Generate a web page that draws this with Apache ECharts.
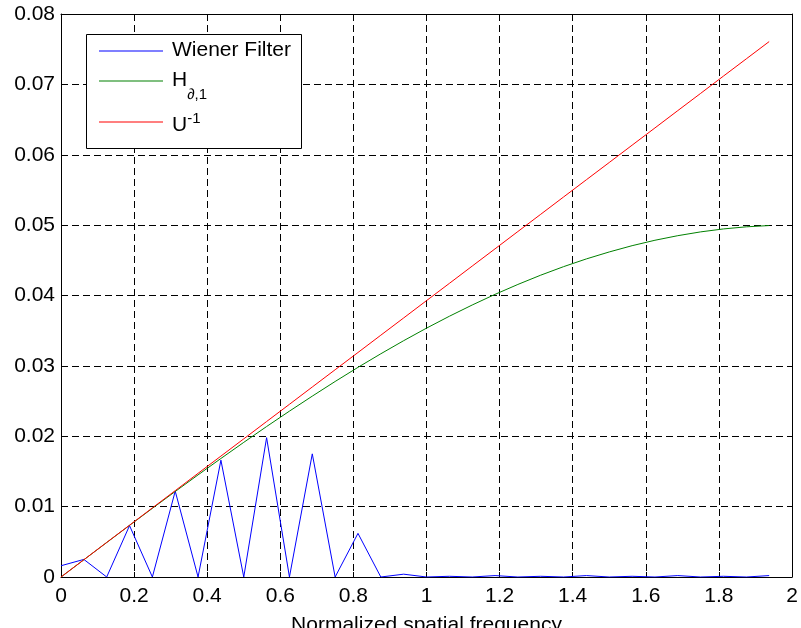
<!DOCTYPE html>
<html>
<head>
<meta charset="utf-8">
<script src="https://cdn.jsdelivr.net/npm/echarts@6/dist/echarts.min.js"></script>
<style>html,body{margin:0;padding:0;background:#fff;}#c{width:801px;height:628px;}</style>
</head>
<body>
<div id="c"></div>
<script>
var xValues = [0,0.0625,0.125,0.1875,0.25,0.3125,0.375,0.4375,0.5,0.5625,0.625,0.6875,0.75,0.8125,0.875,0.9375,
  1,1.0625,1.125,1.1875,1.25,1.3125,1.375,1.4375,1.5,1.5625,1.625,1.6875,1.75,1.8125,1.875,1.9375];
var wiener = [0.0016,0.0025,0,0.0073,0,0.0122,0,0.0166,0,0.0198,0,0.0175,0,0.0062,0,0.0004,
  0,0.0001,0,0.0002,0,0.0001,0,0.0002,0,0.0001,0,0.0002,0,0.0001,0,0.0002];
var hPartial = [0,0.00245,0.0049,0.00734,0.00976,0.01215,0.01451,0.01684,0.01913,0.02138,0.02357,0.0257,0.02778,0.02979,0.03172,0.03358,
  0.03536,0.03705,0.03865,0.04016,0.04157,0.04289,0.0441,0.0452,0.04619,0.04708,0.04785,0.0485,0.04904,0.04946,0.04976,0.04994];
var uInv = [0,0.00245,0.00491,0.00736,0.00982,0.01227,0.01473,0.01718,0.01963,0.02209,0.02454,0.027,0.02945,0.0319,0.03436,0.03681,
  0.03927,0.04172,0.04418,0.04663,0.04909,0.05154,0.054,0.05645,0.0589,0.06136,0.06381,0.06627,0.06872,0.07118,0.07363,0.07608];
var seriesNames = ['Wiener Filter', 'H', 'U'];
var xLabel = 'Normalized spatial frequency';

function pairs(ys){ return xValues.map(function(x,i){ return [x, ys[i]]; }); }

var FONT = '"Liberation Sans", Arial, sans-serif';
var gridLine = { show: true, lineStyle: { color: '#000', type: [7,4], width: 1 } };
var chart = echarts.init(document.getElementById('c'), null, { renderer: 'canvas' });
chart.setOption({
  animation: false,
  backgroundColor: '#fff',
  grid: { left: 61, right: 9, top: 14, bottom: 51, containLabel: false, outerBoundsMode: 'none' },
  xAxis: [{
    type: 'value', min: 0, max: 2, interval: 0.2,
    name: xLabel, nameLocation: 'middle', nameGap: 38,
    nameTextStyle: { fontFamily: FONT, fontSize: 21, color: '#000' },
    axisLine: { show: true, onZero: false, lineStyle: { color: '#000', width: 1 } },
    axisTick: { show: true, inside: true, length: 5, lineStyle: { color: '#000' } },
    axisLabel: { fontFamily: FONT, fontSize: 21, color: '#000', margin: 9 },
    splitLine: gridLine
  }, {
    type: 'value', min: 0, max: 2, interval: 0.2, position: 'top',
    axisLine: { show: true, onZero: false, lineStyle: { color: '#000', width: 1 } },
    axisTick: { show: true, inside: true, length: 5, lineStyle: { color: '#000' } },
    axisLabel: { show: false }, splitLine: { show: false }
  }],
  yAxis: [{
    type: 'value', min: 0, max: 0.08, interval: 0.01,
    axisLine: { show: true, onZero: false, lineStyle: { color: '#000', width: 1 } },
    axisTick: { show: true, inside: true, length: 5, lineStyle: { color: '#000' } },
    axisLabel: { fontFamily: FONT, fontSize: 21, color: '#000', margin: 6 },
    splitLine: gridLine
  }, {
    type: 'value', min: 0, max: 0.08, interval: 0.01, position: 'right',
    axisLine: { show: true, onZero: false, lineStyle: { color: '#000', width: 1 } },
    axisTick: { show: true, inside: true, length: 5, lineStyle: { color: '#000' } },
    axisLabel: { show: false }, splitLine: { show: false }
  }],
  graphic: [{
    type: 'rect', z: 50, left: 86, top: 34,
    shape: { width: 215, height: 114 },
    style: { fill: '#fff', stroke: '#000', lineWidth: 1 }
  }],
  legend: {
    z: 60, zlevel: 0,
    orient: 'vertical', left: 99, top: 40, padding: 0, itemGap: 9,
    itemWidth: 64, itemHeight: 10,
    icon: 'path://M0,5 L64,5 L64,6 L0,6 Z',
    data: seriesNames,
    textStyle: {
      fontFamily: FONT, fontSize: 21, color: '#000',
      rich: {
        b: { fontFamily: FONT, fontSize: 21, lineHeight: 22, padding: [0,0,0,4], verticalAlign: 'top', color: '#000' },
        bh: { fontFamily: FONT, fontSize: 21, lineHeight: 22, padding: [0,0,0,4], verticalAlign: 'top', color: '#000' },
        bu: { fontFamily: FONT, fontSize: 21, lineHeight: 22, padding: [4,0,0,4], verticalAlign: 'top', color: '#000' },
        sub: { fontFamily: FONT, fontSize: 15, lineHeight: 15, padding: [17,0,0,0], verticalAlign: 'top', color: '#000' },
        sup: { fontFamily: FONT, fontSize: 15, lineHeight: 15, verticalAlign: 'top', color: '#000' }
      }
    },
    formatter: function(name){
      if (name === 'H') return '{bh|H}{sub|\u2202,1}';
      if (name === 'U') return '{bu|U}{sup|-1}';
      return '{b|' + name + '}';
    }
  },
  series: [
    { name: 'Wiener Filter', type: 'line', data: pairs(wiener), symbol: 'none',
      lineStyle: { color: '#0000ff', width: 1 }, itemStyle: { color: '#0000ff' }, z: 3 },
    { name: 'H', type: 'line', data: pairs(hPartial), symbol: 'none',
      lineStyle: { color: '#008000', width: 1 }, itemStyle: { color: '#008000' }, z: 3 },
    { name: 'U', type: 'line', data: pairs(uInv), symbol: 'none',
      lineStyle: { color: '#ff0000', width: 1 }, itemStyle: { color: '#ff0000' }, z: 3 }
  ]
});
</script>
</body>
</html>
